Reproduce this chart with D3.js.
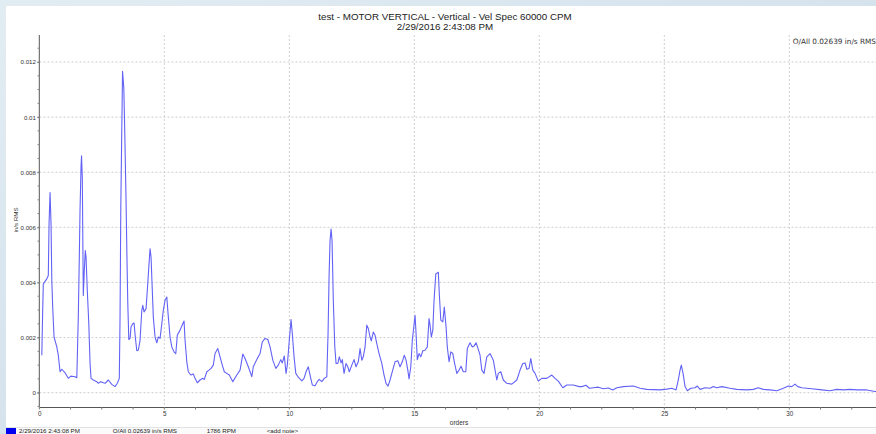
<!DOCTYPE html>
<html>
<head>
<meta charset="utf-8">
<script src="https://cdn.jsdelivr.net/npm/d3@7"></script>
<style>
  html, body { margin: 0; padding: 0; background: #d8e5ef; }
  svg { display: block; }
</style>
</head>
<body>
<svg id="chart" width="876" height="434"></svg>
<script>
// ---- data ----
const titleLine1 = "test - MOTOR VERTICAL - Vertical - Vel Spec 60000 CPM";
const titleLine2 = "2/29/2016 2:43:08 PM";
const overallLabel = "O/All 0.02639 in/s RMS";
const yAxisTitle = "in/s RMS";
const xAxisTitle = "orders";
const legendItems = ["2/29/2016 2:43:08 PM", "O/All 0.02639 in/s RMS", "1786 RPM", "<add note>"];

const xTicks = [0, 5, 10, 15, 20, 25, 30];
const yTicks = [0, 0.002, 0.004, 0.006, 0.008, 0.01, 0.012];
const yTickLabels = ["0", "0.002", "0.004", "0.006", "0.008", "0.01", "0.012"];

const orders = [
  0.10,0.13,0.16,0.30,0.36,0.39,0.43,0.47,0.50,0.54,0.59,0.70,0.76,0.83,0.90,1.03,1.16,1.26,1.43,1.50,
  1.56,1.60,1.63,1.67,1.69,1.72,1.76,1.80,1.84,1.87,1.92,1.98,2.03,2.07,2.16,2.30,2.36,2.46,2.56,2.63,
  2.76,2.90,3.03,3.12,3.20,3.23,3.26,3.30,3.33,3.38,3.42,3.47,3.51,3.54,3.58,3.63,3.67,3.74,3.79,3.84,
  3.90,3.96,4.03,4.10,4.14,4.19,4.27,4.32,4.38,4.43,4.47,4.51,4.56,4.63,4.70,4.76,4.83,4.90,4.96,5.03,
  5.10,5.15,5.23,5.30,5.39,5.46,5.52,5.63,5.74,5.79,5.83,5.90,5.96,6.06,6.16,6.23,6.32,6.43,6.54,6.60,
  6.70,6.79,6.87,6.96,7.03,7.14,7.23,7.32,7.40,7.50,7.60,7.74,7.90,8.03,8.14,8.23,8.36,8.50,8.56,8.70,
  8.83,8.92,9.03,9.14,9.23,9.34,9.46,9.56,9.66,9.72,9.80,9.87,9.92,10.00,10.07,10.12,10.19,10.26,10.36,10.50,
  10.59,10.67,10.76,10.83,10.92,11.03,11.12,11.20,11.30,11.40,11.50,11.55,11.59,11.63,11.67,11.71,11.76,11.82,11.87,11.94,
  12.00,12.07,12.12,12.19,12.27,12.34,12.40,12.50,12.59,12.67,12.76,12.83,12.90,12.96,13.03,13.10,13.16,13.23,13.28,13.36,
  13.43,13.50,13.59,13.70,13.79,13.87,13.95,14.03,14.12,14.23,14.34,14.43,14.52,14.60,14.67,14.74,14.79,14.86,14.92,14.98,
  15.03,15.07,15.12,15.19,15.26,15.34,15.43,15.52,15.59,15.63,15.68,15.74,15.79,15.86,15.96,16.00,16.06,16.14,16.20,16.27,
  16.32,16.39,16.46,16.54,16.60,16.70,16.79,16.87,16.96,17.06,17.12,17.23,17.32,17.39,17.47,17.55,17.63,17.70,17.79,17.90,
  18.03,18.16,18.30,18.36,18.46,18.56,18.70,18.90,19.10,19.23,19.34,19.43,19.50,19.59,19.66,19.74,19.83,19.96,20.10,20.30,
  20.50,20.63,20.76,20.94,21.10,21.36,21.60,21.70,21.87,22.00,22.16,22.36,22.56,22.76,22.94,23.10,23.36,23.76,24.03,24.30,
  24.83,25.10,25.30,25.47,25.56,25.63,25.68,25.75,25.83,25.92,26.06,26.23,26.32,26.43,26.63,26.83,26.96,27.10,27.30,27.63,
  27.90,28.30,28.56,28.76,28.96,29.23,29.50,29.76,29.96,30.10,30.23,30.34,30.50,30.90,31.30,31.63,31.90,32.16,32.43,32.70,
  33.10,33.43,33.60
];
const velocity = [
  0.00136,0.00275,0.00395,0.00413,0.00425,0.00612,0.00726,0.00610,0.00407,0.00300,0.00202,0.00166,0.00136,0.00076,0.00085,0.00072,0.00052,0.00060,0.00058,0.00054,
  0.00275,0.00490,0.00666,0.00823,0.00860,0.00780,0.00353,0.00443,0.00516,0.00490,0.00371,0.00250,0.00106,0.00052,0.00046,0.00040,0.00034,0.00040,0.00036,0.00034,
  0.00046,0.00030,0.00022,0.00034,0.00052,0.00275,0.00672,0.00960,0.01166,0.01106,0.00937,0.00696,0.00468,0.00323,0.00193,0.00197,0.00239,0.00250,0.00253,0.00202,
  0.00152,0.00154,0.00190,0.00299,0.00317,0.00293,0.00305,0.00371,0.00455,0.00522,0.00492,0.00395,0.00275,0.00202,0.00181,0.00202,0.00197,0.00250,0.00299,0.00335,
  0.00347,0.00287,0.00202,0.00166,0.00148,0.00142,0.00208,0.00227,0.00250,0.00260,0.00190,0.00112,0.00076,0.00064,0.00068,0.00052,0.00036,0.00046,0.00052,0.00048,
  0.00076,0.00082,0.00088,0.00100,0.00142,0.00160,0.00130,0.00100,0.00076,0.00070,0.00064,0.00040,0.00064,0.00082,0.00140,0.00124,0.00094,0.00058,0.00094,0.00120,
  0.00142,0.00184,0.00197,0.00193,0.00166,0.00118,0.00088,0.00100,0.00120,0.00108,0.00133,0.00070,0.00100,0.00190,0.00265,0.00215,0.00130,0.00070,0.00056,0.00043,
  0.00052,0.00076,0.00094,0.00064,0.00028,0.00025,0.00040,0.00048,0.00040,0.00052,0.00058,0.00215,0.00419,0.00552,0.00594,0.00552,0.00335,0.00166,0.00106,0.00106,
  0.00130,0.00108,0.00120,0.00070,0.00106,0.00094,0.00076,0.00100,0.00120,0.00094,0.00112,0.00160,0.00118,0.00130,0.00166,0.00245,0.00233,0.00202,0.00188,0.00220,
  0.00208,0.00178,0.00142,0.00106,0.00064,0.00034,0.00024,0.00046,0.00076,0.00112,0.00116,0.00094,0.00112,0.00136,0.00118,0.00082,0.00050,0.00094,0.00190,0.00239,
  0.00281,0.00215,0.00120,0.00142,0.00130,0.00152,0.00154,0.00166,0.00269,0.00245,0.00202,0.00227,0.00335,0.00431,0.00437,0.00359,0.00263,0.00257,0.00311,0.00239,
  0.00166,0.00112,0.00148,0.00142,0.00112,0.00070,0.00082,0.00096,0.00076,0.00076,0.00160,0.00181,0.00166,0.00169,0.00181,0.00160,0.00136,0.00082,0.00070,0.00130,
  0.00142,0.00118,0.00046,0.00070,0.00076,0.00046,0.00034,0.00031,0.00046,0.00082,0.00106,0.00108,0.00085,0.00088,0.00124,0.00082,0.00070,0.00042,0.00052,0.00052,
  0.00064,0.00052,0.00042,0.00018,0.00028,0.00028,0.00022,0.00022,0.00027,0.00016,0.00018,0.00020,0.00014,0.00017,0.00010,0.00018,0.00022,0.00024,0.00016,0.00012,
  0.00010,0.00013,0.00016,0.00010,0.00046,0.00082,0.00100,0.00070,0.00022,0.00007,0.00016,0.00018,0.00024,0.00012,0.00018,0.00016,0.00022,0.00018,0.00022,0.00016,
  0.00012,0.00010,0.00012,0.00018,0.00012,0.00010,0.00007,0.00016,0.00024,0.00022,0.00031,0.00022,0.00018,0.00014,0.00010,0.00007,0.00012,0.00010,0.00012,0.00010,
  0.00010,0.00004,0.00004
];

// ---- layout ----
const W = 876, H = 434;
const svg = d3.select("#chart");

const defs = svg.append("defs");
const grad = defs.append("linearGradient").attr("id", "bg").attr("x1", "0").attr("y1", "0").attr("x2", "1").attr("y2", "1");
grad.append("stop").attr("offset", "0%").attr("stop-color", "#e2ecf3");
grad.append("stop").attr("offset", "100%").attr("stop-color", "#c9dae6");
svg.append("rect").attr("width", W).attr("height", H).attr("fill", "url(#bg)");
svg.append("rect").attr("x", 6).attr("y", 6).attr("width", W - 6).attr("height", 421).attr("fill", "#ffffff");
svg.append("rect").attr("x", 6).attr("y", 427).attr("width", W - 6).attr("height", 7).attr("fill", "#fbfbfb");
svg.append("line").attr("x1", 6).attr("x2", W).attr("y1", 427.5).attr("y2", 427.5).attr("stroke", "#e2e2e2");

const x = d3.scaleLinear().domain([0, 33.6]).range([39.3, 879.3]);
const y = d3.scaleLinear().domain([-0.00052, 0.01298]).range([407, 35]);

// grid
const g = svg.append("g");
g.selectAll("line.vg").data(xTicks.filter(d => d > 0)).join("line")
  .attr("x1", d => x(d)).attr("x2", d => x(d)).attr("y1", 35).attr("y2", 407)
  .attr("stroke", "#cfcfcf").attr("stroke-dasharray", "2,2");
g.selectAll("line.hg").data(yTicks).join("line")
  .attr("x1", 39.5).attr("x2", W).attr("y1", d => y(d)).attr("y2", d => y(d))
  .attr("stroke", "#cfcfcf").attr("stroke-dasharray", "2,2");

const tf = "Liberation Sans, Arial, sans-serif";

// axes
const xAxis = d3.axisBottom(x).tickValues(xTicks).tickSize(0).tickPadding(5).tickFormat(d3.format("d"));
const xg = svg.append("g").attr("transform", "translate(0,407)").call(xAxis);
xg.select(".domain").attr("stroke", "#555");
xg.selectAll("text").attr("font-family", tf).attr("font-size", 6.3).attr("fill", "#333");

const xMinor = d3.range(0, 34, 1.25);
svg.append("g").selectAll("line").data(xMinor).join("line")
  .attr("x1", d => x(d)).attr("x2", d => x(d)).attr("y1", 407).attr("y2", 409.5).attr("stroke", "#777");

const yAxis = d3.axisLeft(y).tickValues(yTicks).tickSize(2).tickPadding(1.5).tickFormat((d, i) => yTickLabels[i]);
const yg = svg.append("g").attr("transform", "translate(39.3,0)").call(yAxis);
yg.select(".domain").attr("stroke", "#555").attr("d", "M0,35V407");
yg.selectAll(".tick line").attr("stroke", "#777");
yg.selectAll("text").attr("font-family", tf).attr("font-size", 6.1).attr("fill", "#333");

const yMinor = d3.range(-0.0005, 0.0129, 0.0005);
svg.append("g").selectAll("line").data(yMinor).join("line")
  .attr("x1", 37.5).attr("x2", 39.3).attr("y1", d => y(d)).attr("y2", d => y(d)).attr("stroke", "#888");

// line
const pts = orders.map((o, i) => [o, velocity[i]]);
svg.append("path").datum(pts)
  .attr("fill", "none").attr("stroke", "#6262f6").attr("stroke-width", 1.1)
  .attr("stroke-linejoin", "round")
  .attr("d", d3.line().x(d => x(d[0])).y(d => y(d[1])));

// titles
svg.append("text").attr("x", 445).attr("y", 20).attr("text-anchor", "middle")
  .attr("font-family", tf).attr("font-size", 9.8).attr("fill", "#222").text(titleLine1);
svg.append("text").attr("x", 445).attr("y", 30).attr("text-anchor", "middle")
  .attr("font-family", tf).attr("font-size", 9.8).attr("fill", "#222").text(titleLine2);

svg.append("text").attr("x", 792.7).attr("y", 43.5)
  .attr("font-family", "DejaVu Sans, sans-serif").attr("font-size", 7.3).attr("fill", "#333").text(overallLabel);

svg.append("text").attr("transform", "translate(18.3,220) rotate(-90)").attr("text-anchor", "middle")
  .attr("font-family", tf).attr("font-size", 6.2).attr("fill", "#333").text(yAxisTitle);

svg.append("text").attr("x", 459).attr("y", 425).attr("text-anchor", "middle")
  .attr("font-family", tf).attr("font-size", 6.5).attr("fill", "#333").text(xAxisTitle);

// legend
svg.append("rect").attr("x", 6).attr("y", 428).attr("width", 10).attr("height", 6).attr("fill", "#0000ee");
const legX = [19, 112.7, 206.7, 266.7];
svg.append("g").selectAll("text").data(legendItems).join("text")
  .attr("x", (d, i) => legX[i]).attr("y", 433.2)
  .attr("font-family", tf).attr("font-size", 6.2).attr("fill", "#222").text(d => d);
</script>
</body>
</html>
